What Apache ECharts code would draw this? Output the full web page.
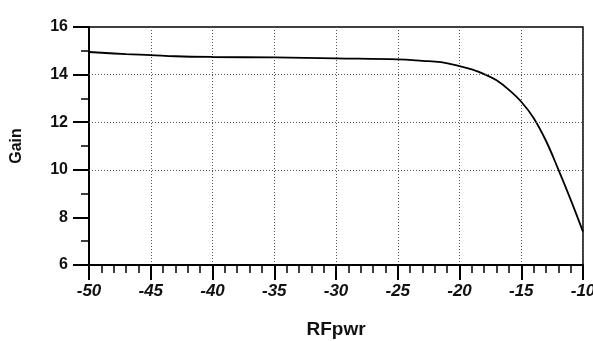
<!DOCTYPE html>
<html><head><meta charset="utf-8">
<script src="https://cdn.jsdelivr.net/npm/echarts@6/dist/echarts.min.js"></script>
<style>html,body{margin:0;padding:0;background:#fff}#c{width:593px;height:341px}</style>
</head><body><div id="c"></div>
<script>
const rfPwr = [-50, -47, -45, -43, -40, -35, -30, -25, -23, -21.5, -20, -19, -18, -17, -16, -15, -14, -13, -12, -11, -10];
const gain  = [14.95, 14.86, 14.82, 14.77, 14.74, 14.72, 14.68, 14.64, 14.58, 14.52, 14.36, 14.22, 14.02, 13.76, 13.36, 12.86, 12.18, 11.22, 10.02, 8.75, 7.4];
const yGridValues = [10, 12, 14];
const xLabel = 'RFpwr';
const yLabel = 'Gain';

const chart = echarts.init(document.getElementById('c'));
const font = 'Liberation Sans, Arial, sans-serif';
chart.setOption({
  animation: false,
  grid: { left: 89, right: 10, top: 27, bottom: 76, show: true, borderColor: '#000', borderWidth: 1.5,
          containLabel: false, outerBoundsMode: 'none' },
  xAxis: {
    type: 'value', min: -50, max: -10, interval: 5,
    name: xLabel, nameLocation: 'middle', nameGap: 55,
    nameTextStyle: { fontFamily: font, fontSize: 19, fontWeight: 'bold', color: '#111' },
    axisLine: { lineStyle: { color: '#000', width: 2 } },
    axisTick: { length: 15, lineStyle: { color: '#000', width: 2 } },
    minorTick: { show: true, splitNumber: 5, length: 8, lineStyle: { color: '#000', width: 1.5 } },
    axisLabel: { margin: 18, fontFamily: font, fontSize: 17, fontWeight: 'bold', fontStyle: 'italic', color: '#111' },
    splitLine: { show: true, lineStyle: { color: '#555', type: [1, 2], width: 1 } }
  },
  yAxis: {
    type: 'value', min: 6, max: 16, interval: 2,
    name: yLabel, nameLocation: 'middle', nameGap: 64, nameRotate: 90,
    nameTextStyle: { fontFamily: font, fontSize: 16, fontWeight: 'bold', color: '#111' },
    axisLine: { show: true, lineStyle: { color: '#000', width: 2 } },
    axisTick: { show: true, length: 16, lineStyle: { color: '#000', width: 2 } },
    minorTick: { show: true, splitNumber: 2, length: 8, lineStyle: { color: '#000', width: 1.5 } },
    axisLabel: { margin: 21, fontFamily: font, fontSize: 16, fontWeight: 'bold', color: '#111' },
    splitLine: { show: false }
  },
  series: [{
    type: 'line', data: rfPwr.map((x, i) => [x, gain[i]]),
    smooth: 0.4, showSymbol: false, symbol: 'none',
    lineStyle: { color: '#000', width: 1.8 },
    markLine: {
      silent: true, symbol: 'none', label: { show: false },
      lineStyle: { color: '#555', type: [1, 2], width: 1 },
      data: yGridValues.map(v => ({ yAxis: v }))
    }
  }]
});
</script></body></html>
